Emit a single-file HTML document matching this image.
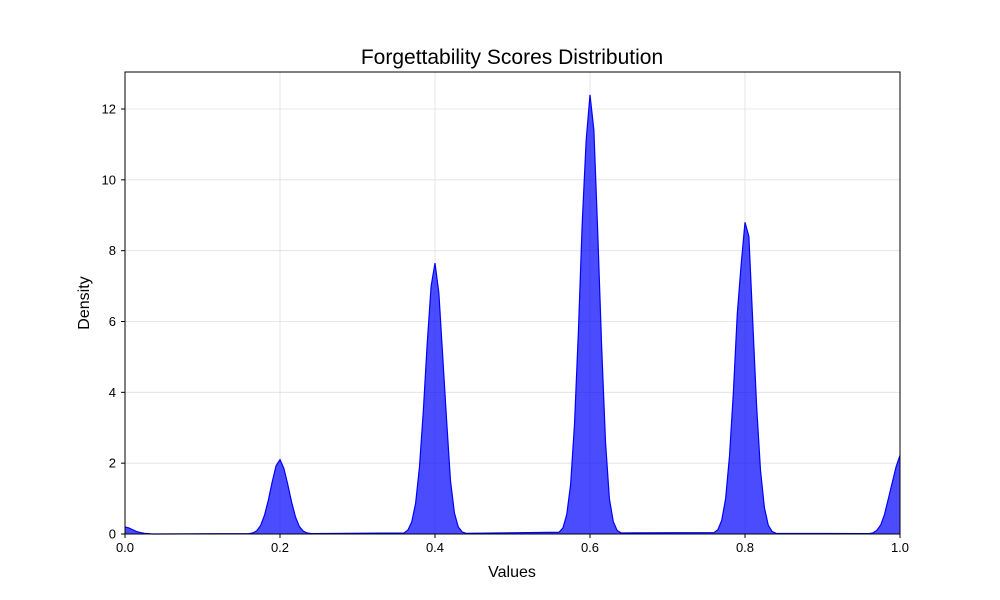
<!DOCTYPE html>
<html><head><meta charset="utf-8"><style>
html,body{margin:0;padding:0;background:#fff;}
svg{display:block;font-family:"Liberation Sans","DejaVu Sans",sans-serif;}
</style></head><body>
<svg id="chart" width="1000" height="600">
<text x="512" y="64" font-size="21" text-anchor="middle">Forgettability Scores Distribution</text>
<g id="grid"></g>
<g id="area"></g>
<rect x="125" y="72" width="775" height="462" fill="none" stroke="#000" stroke-width="1"/>
<g id="xticks"></g>
<g id="yticks"></g>
<text x="512" y="577" font-size="16" text-anchor="middle">Values</text>
<text x="89" y="303" font-size="16" text-anchor="middle" transform="rotate(-90 89 303)">Density</text>
</svg>
<script>
const xTickValues=[0,0.2,0.4,0.6,0.8,1.0];
const xTickLabels=["0.0","0.2","0.4","0.6","0.8","1.0"];
const yTickValues=[0,2,4,6,8,10,12];
const yTickLabels=["0","2","4","6","8","10","12"];
const step=0.005;
const segStarts=[0.0,0.16,0.36,0.56,0.76,0.96];
const segDensity0=[0.2,0.17,0.12,0.07,0.04,0.02,0.01,0];
const segDensity1=[0.01,0.03,0.09,0.24,0.53,0.96,1.48,1.93,2.1,1.85,1.4,0.9,0.48,0.21,0.08,0.03,0.01];
const segDensity2=[0.03,0.11,0.34,0.87,1.9,3.5,5.4,7.0,7.65,6.8,5.0,3.2,1.5,0.6,0.2,0.06,0.02];
const segDensity3=[0.05,0.17,0.55,1.4,3.1,5.7,8.8,11.1,12.4,11.4,8.5,5.3,2.6,1.0,0.35,0.1,0.03];
const segDensity4=[0.04,0.12,0.39,1.0,2.2,4.0,6.2,7.6,8.8,8.4,6.0,3.6,1.8,0.75,0.25,0.07,0.02];
const segDensity5=[0.01,0.03,0.1,0.25,0.55,1.0,1.45,1.9,2.22];
const segs=[segDensity0,segDensity1,segDensity2,segDensity3,segDensity4,segDensity5];
const X0=125,X1=900,Y0=534,Yunit=(534-109)/12;
const sx=v=>X0+(X1-X0)*v;
const sy=v=>Y0-v*Yunit;
const NS="http://www.w3.org/2000/svg";
function mk(t,a){const e=document.createElementNS(NS,t);for(const k in a)e.setAttribute(k,a[k]);return e;}
const grid=document.getElementById('grid'),xt=document.getElementById('xticks'),yt=document.getElementById('yticks');
xTickValues.forEach((v,i)=>{
  const g=mk('line',{x1:sx(v),x2:sx(v),y1:72,y2:534,stroke:'#e0e0e0','stroke-width':0.8});
  
  
  grid.appendChild(g);
  const t=mk('line',{x1:sx(v),x2:sx(v),y1:534,y2:538,stroke:'#000'});
  
  
  xt.appendChild(t);
  const l=mk('text',{x:sx(v),y:552,'font-size':13,'text-anchor':'middle'});
  l.textContent=xTickLabels[i];
  
  
  xt.appendChild(l);
});
yTickValues.forEach((v,i)=>{
  const g=mk('line',{x1:125,x2:900,y1:sy(v),y2:sy(v),stroke:'#e0e0e0','stroke-width':0.8});
  
  
  grid.appendChild(g);
  const t=mk('line',{x1:121,x2:125,y1:sy(v),y2:sy(v),stroke:'#000'});
  
  
  yt.appendChild(t);
  const l=mk('text',{x:116,y:sy(v)+4.5,'font-size':13,'text-anchor':'end'});
  l.textContent=yTickLabels[i];
  
  
  yt.appendChild(l);
});
// build full curve
const pts=[];
segs.forEach((arr,s)=>{arr.forEach((d,i)=>pts.push([segStarts[s]+i*step,d]));});
let line='';
pts.forEach((p,i)=>{line+=(i?'L':'M')+sx(p[0]).toFixed(2)+','+sy(p[1]).toFixed(2);});
const last=pts[pts.length-1];
const fill=mk('path',{d:line+'L'+sx(last[0])+','+Y0+'L'+sx(0)+','+Y0+'Z',fill:'#0000ff','fill-opacity':0.7,stroke:'none'});


document.getElementById('area').appendChild(fill);
const ln=mk('path',{d:line,fill:'none',stroke:'#0000ff','stroke-width':1.2});


document.getElementById('area').appendChild(ln);
</script>
</body></html>
